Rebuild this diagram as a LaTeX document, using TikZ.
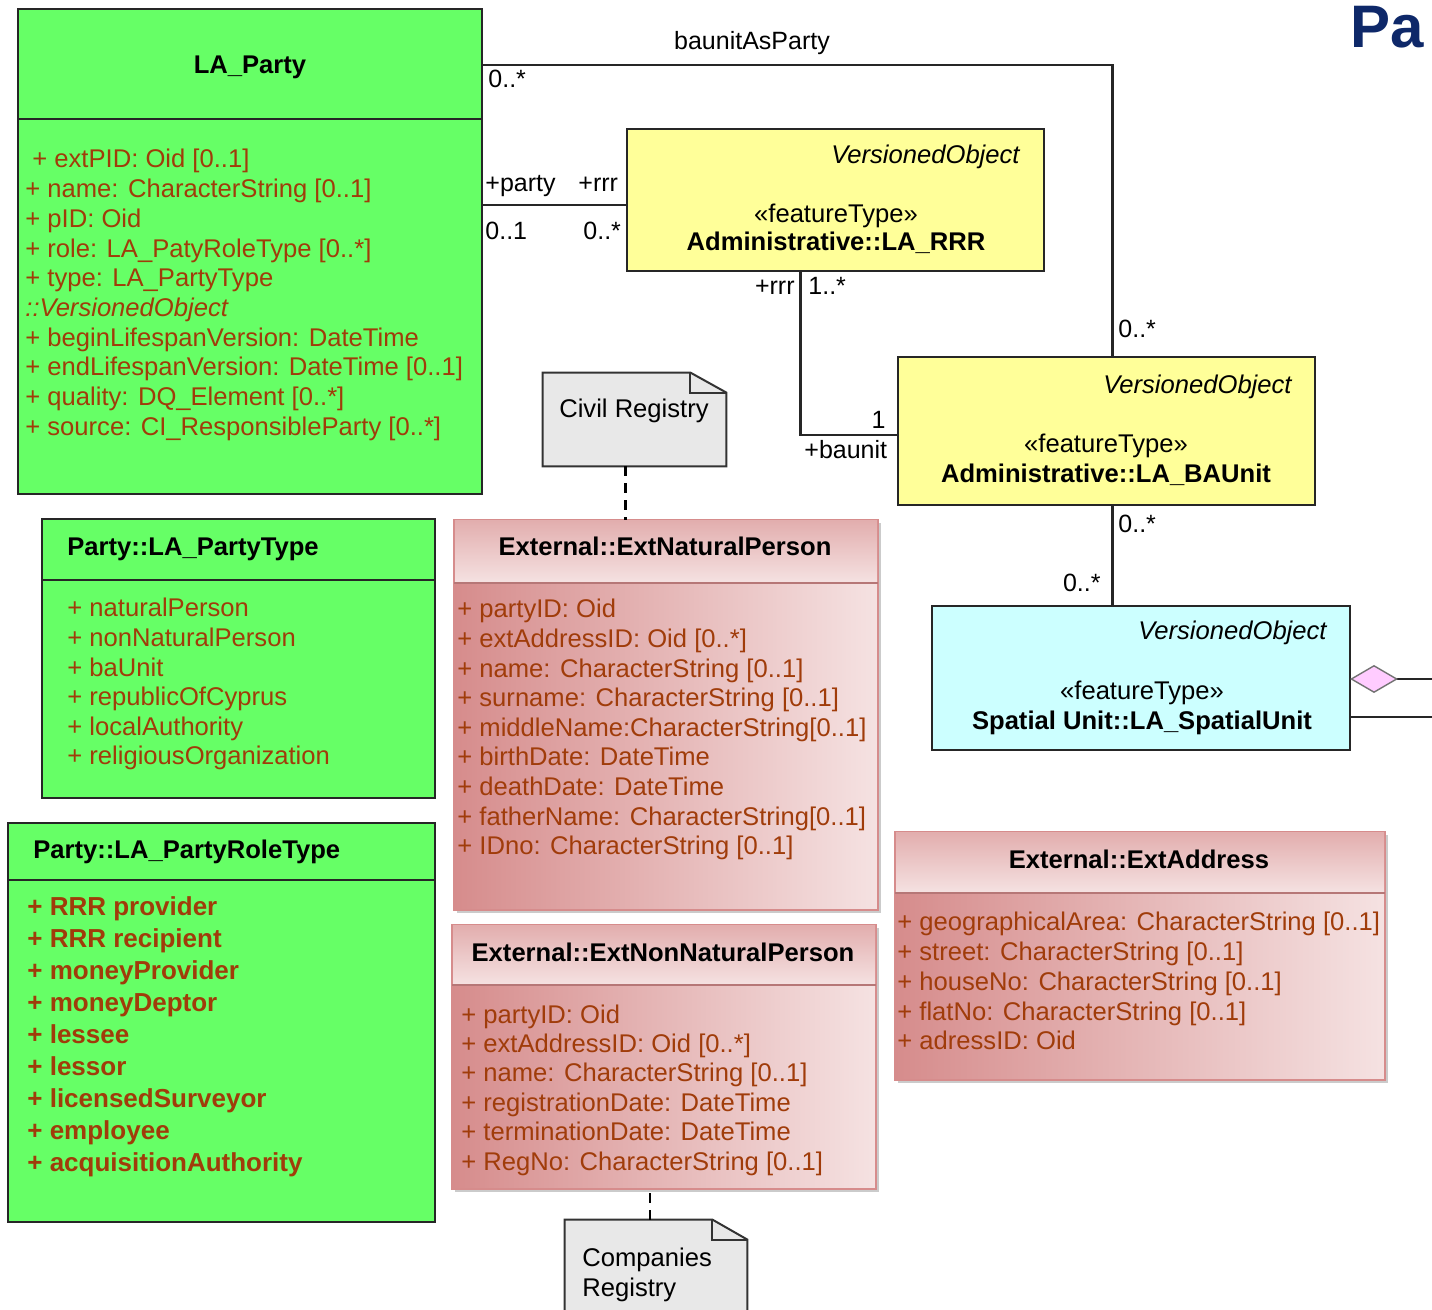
\documentclass[tikz,border=0pt]{standalone}
\usepackage{fontspec}
\setmainfont{Liberation Sans}
\usetikzlibrary{arrows.meta,positioning,fit,calc,shadows}

\definecolor{umlgreen}{RGB}{102,255,102}
\definecolor{umlyellow}{RGB}{255,255,153}
\definecolor{umlcyan}{RGB}{204,255,255}
\definecolor{attrbrown}{RGB}{160,60,10}
\definecolor{rosedark}{RGB}{214,140,140}
\definecolor{roselight}{RGB}{245,226,226}
\definecolor{notegray}{RGB}{232,232,232}
\definecolor{diapink}{RGB}{255,204,255}
\definecolor{titlenavy}{RGB}{14,40,105}

\begin{document}
\begin{tikzpicture}[x=0.5pt, y=-0.5pt,
    cls/.style={draw=black!85, line width=1pt, inner sep=0pt, outer sep=0pt},
    grn/.style={cls, fill=umlgreen},
    ylw/.style={cls, fill=umlyellow},
    cyn/.style={cls, fill=umlcyan},
    ext/.style={draw=rosedark, line width=0.8pt, inner sep=0pt, outer sep=0pt,
                left color=rosedark, right color=roselight,
                drop shadow={shadow xshift=1.5pt, shadow yshift=-1.5pt, fill=black!40}},
    exthead/.style={top color=rosedark!60!roselight, bottom color=roselight},
    attr/.style={font=\fontsize{12.8}{15}\selectfont, text=attrbrown, anchor=base west, inner sep=0pt},
    battr/.style={attr, font=\fontsize{13}{15}\selectfont\bfseries},
    ttl/.style={font=\fontsize{12.8}{15}\selectfont\bfseries, anchor=base, inner sep=0pt},
    stereo/.style={font=\fontsize{12.8}{15}\selectfont, anchor=base, inner sep=0pt},
    vobj/.style={font=\fontsize{12.8}{15}\selectfont\itshape, anchor=base east, inner sep=0pt},
    role/.style={font=\fontsize{12.5}{15}\selectfont, anchor=base west, inner sep=0pt},
    assoc/.style={line width=1.4pt, draw=black!85},
    note/.style={draw=black!80, line width=1pt, fill=notegray},
    notelink/.style={line width=1.2pt, dash pattern=on 5pt off 3.5pt},
]
    \useasboundingbox (0,0) rectangle (1432,1310);
    \fill[white] (0,0) rectangle (1432,1310);
    \clip (0,0) rectangle (1432,1310);

    % LA_Party
    \node[grn, fit={(18,9) (482,494)}] (party) {};
    \draw[line width=1pt, black!85] ($(party.north west)+(0,110)$) -- ($(party.north east)+(0,110)$);
    \node[ttl] (partyttl) at (250,74) {LA\_Party};
    \node[attr] (pa0) at (32,168) {+ extPID: Oid [0..1]};
    \foreach \a [count=\i] in {+ name: CharacterString [0..1], + pID: Oid,
        + role: LA\_PatyRoleType [0..*], + type: LA\_PartyType, {\itshape ::VersionedObject},
        + beginLifespanVersion: DateTime, + endLifespanVersion: DateTime [0..1],
        + quality: DQ\_Element [0..*], + source: CI\_ResponsibleParty [0..*]}
        \node[attr] (pa\i) at (25,{168+29.7*\i}) {\a};

    % Party::LA_PartyType
    \node[grn, fit={(42,519) (435,798)}] (ptype) {};
    \draw[line width=1pt, black!85] ($(ptype.north west)+(0,61)$) -- ($(ptype.north east)+(0,61)$);
    \node[ttl, anchor=base west] (ptypettl) at (67,556) {Party::LA\_PartyType};
    \foreach \a [count=\i] in {+ naturalPerson, + nonNaturalPerson, + baUnit,
        + republicOfCyprus, + localAuthority, + religiousOrganization}
        \node[attr] (pt\i) at (67,{617+29.6*(\i-1)}) {\a};

    % Party::LA_PartyRoleType
    \node[grn, fit={(8,823) (435,1222)}] (prole) {};
    \draw[line width=1pt, black!85] ($(prole.north west)+(0,57)$) -- ($(prole.north east)+(0,57)$);
    \node[ttl, anchor=base west] (prolettl) at (33,859) {Party::LA\_PartyRoleType};
    \foreach \a [count=\i] in {+ RRR provider, + RRR recipient, + moneyProvider,
        + moneyDeptor, + lessee, + lessor, + licensedSurveyor, + employee,
        + acquisitionAuthority}
        \node[battr] (pr\i) at (27,{915+32.1*(\i-1)}) {\a};

    % Administrative::LA_RRR
    \node[ylw, fit={(627,129) (1044,271)}] (rrr) {};
    \node[vobj] (rrrvo) at (1020,164) {VersionedObject};
    \node[stereo] (rrrst) at (836,223) {«featureType»};
    \node[ttl] (rrrttl) at (836,251) {Administrative::LA\_RRR};

    % Administrative::LA_BAUnit
    \node[ylw, fit={(898,357) (1315,505)}] (baunit) {};
    \node[vobj] (bavo) at (1292,394) {VersionedObject};
    \node[stereo] (bast) at (1106,453) {«featureType»};
    \node[ttl] (battl) at (1106,483) {Administrative::LA\_BAUnit};

    % Spatial Unit::LA_SpatialUnit
    \node[cyn, fit={(932,606) (1350,750)}] (spatial) {};
    \node[vobj] (spvo) at (1327,640) {VersionedObject};
    \node[stereo] (spst) at (1142,700) {«featureType»};
    \node[ttl] (spttl) at (1142,730) {Spatial Unit::LA\_SpatialUnit};

    % External::ExtNaturalPerson
    \node[ext, fit={(454,520) (878,910)}] (natural) {};
    \shade[exthead] ($(natural.north west)+(1,1)$) rectangle ($(natural.north east)+(-1,63)$);
    \draw[line width=1.2pt, rosedark!85!black] ($(natural.north west)+(0,63)$) -- ($(natural.north east)+(0,63)$);
    \node[ttl] (natttl) at (665,556) {External::ExtNaturalPerson};
    \foreach \a [count=\i] in {+ partyID: Oid, + extAddressID: Oid [0..*],
        + name: CharacterString [0..1], + surname: CharacterString [0..1],
        + middleName:CharacterString[0..1], + birthDate: DateTime,
        + deathDate: DateTime, + fatherName: CharacterString[0..1],
        + IDno: CharacterString [0..1]}
        \node[attr] (np\i) at (457,{618+29.6*(\i-1)}) {\a};

    % External::ExtNonNaturalPerson
    \node[ext, fit={(452,925) (876,1189)}] (nonnat) {};
    \shade[exthead] ($(nonnat.north west)+(1,1)$) rectangle ($(nonnat.north east)+(-1,60)$);
    \draw[line width=1.2pt, rosedark!85!black] ($(nonnat.north west)+(0,60)$) -- ($(nonnat.north east)+(0,60)$);
    \node[ttl] (nnttl) at (663,962) {External::ExtNonNaturalPerson};
    \foreach \a [count=\i] in {+ partyID: Oid, + extAddressID: Oid [0..*],
        + name: CharacterString [0..1], + registrationDate: DateTime,
        + terminationDate: DateTime, + RegNo: CharacterString [0..1]}
        \node[attr] (nn\i) at (461,{1023+29.4*(\i-1)}) {\a};

    % External::ExtAddress
    \node[ext, fit={(895,832) (1385,1080)}] (address) {};
    \shade[exthead] ($(address.north west)+(1,1)$) rectangle ($(address.north east)+(-1,61)$);
    \draw[line width=1.2pt, rosedark!85!black] ($(address.north west)+(0,61)$) -- ($(address.north east)+(0,61)$);
    \node[ttl] (adttl) at (1139,869) {External::ExtAddress};
    \foreach \a [count=\i] in {+ geographicalArea: CharacterString [0..1],
        + street: CharacterString [0..1], + houseNo: CharacterString [0..1],
        + flatNo: CharacterString [0..1], + adressID: Oid}
        \node[attr] (ad\i) at (897,{931+29.75*(\i-1)}) {\a};

    % notes
    \node[inner sep=0pt, fit={(543,373) (726,466)}] (civil) {};
    \filldraw[note] (civil.north west) -- ($(civil.north east)+(-36,0)$) -- ($(civil.north east)+(0,20)$)
        -- (civil.south east) -- (civil.south west) -- cycle;
    \draw[note, fill=none] ($(civil.north east)+(-36,0)$) -- ++(0,20) -- ($(civil.north east)+(0,20)$);
    \node[stereo] (civiltxt) at (634,418) {Civil Registry};

    \node[inner sep=0pt, fit={(565,1220) (747,1330)}] (comp) {};
    \filldraw[note] (comp.north west) -- ($(comp.north east)+(-35,0)$) -- ($(comp.north east)+(0,20)$)
        -- (comp.south east) -- (comp.south west) -- cycle;
    \draw[note, fill=none] ($(comp.north east)+(-35,0)$) -- ++(0,20) -- ($(comp.north east)+(0,20)$);
    \node[stereo, anchor=base west] (comptxta) at (582,1266) {Companies};
    \node[stereo, anchor=base west] (comptxtb) at (582,1296) {Registry};

    \draw[notelink] ($(civil.south)+(-9,0)$) -- ($(civil.south |- natural.north)+(-9,0)$);
    \draw[notelink] ($(comp.north)+(-6,0)$) -- ($(comp.north |- nonnat.south)+(-6,0)$);

    % associations
    \draw[assoc] ($(party.north east)+(0,56)$) -| ($(baunit.north)+(6,0)$);
    \node[role, anchor=base] (lbaunitas) at (752,50) {baunitAsParty};
    \node[role] (m1) at (488,88) {0..*};
    \node[role] (m2) at (1118,338) {0..*};

    \draw[assoc] ($(rrr.west)+(0,5)$) -- ($(rrr.west -| party.east)+(0,5)$);
    \node[role] (lparty) at (485,192) {+party};
    \node[role] (lrrr) at (578,192) {+rrr};
    \node[role] (m3) at (485,240) {0..1};
    \node[role] (m4) at (583,240) {0..*};

    \draw[assoc] ($(rrr.south)+(-35,0)$) |- ($(baunit.west)+(0,4)$);
    \node[role, anchor=base east] (lrrr2) at (795,295) {+rrr};
    \node[role] (m5) at (808,295) {1..*};
    \node[role, anchor=base east] (m6) at (886,429) {1};
    \node[role] (lbaunit) at (804,459) {+baunit};

    \draw[assoc] ($(baunit.south)+(6,0)$) -- ($(baunit.south |- spatial.north)+(6,0)$);
    \node[role] (m7) at (1118,533) {0..*};
    \node[role, anchor=base east] (m8) at (1101,592) {0..*};

    \coordinate (offA) at (1450,679);
    \coordinate (offB) at (1450,717);
    \draw[assoc, {Diamond[color=black!55, fill=diapink, line width=0.7pt, length=24pt, width=14pt]}-]
        (offA -| spatial.east) -- (offA);
    \draw[assoc] (offB -| spatial.east) -- (offB);

    % page title (cut off)
    \node[font=\fontsize{30}{36}\selectfont\bfseries, text=titlenavy, anchor=base west, inner sep=0pt]
        (pagettl) at (1350,48) {Pa};
\end{tikzpicture}
\end{document}
